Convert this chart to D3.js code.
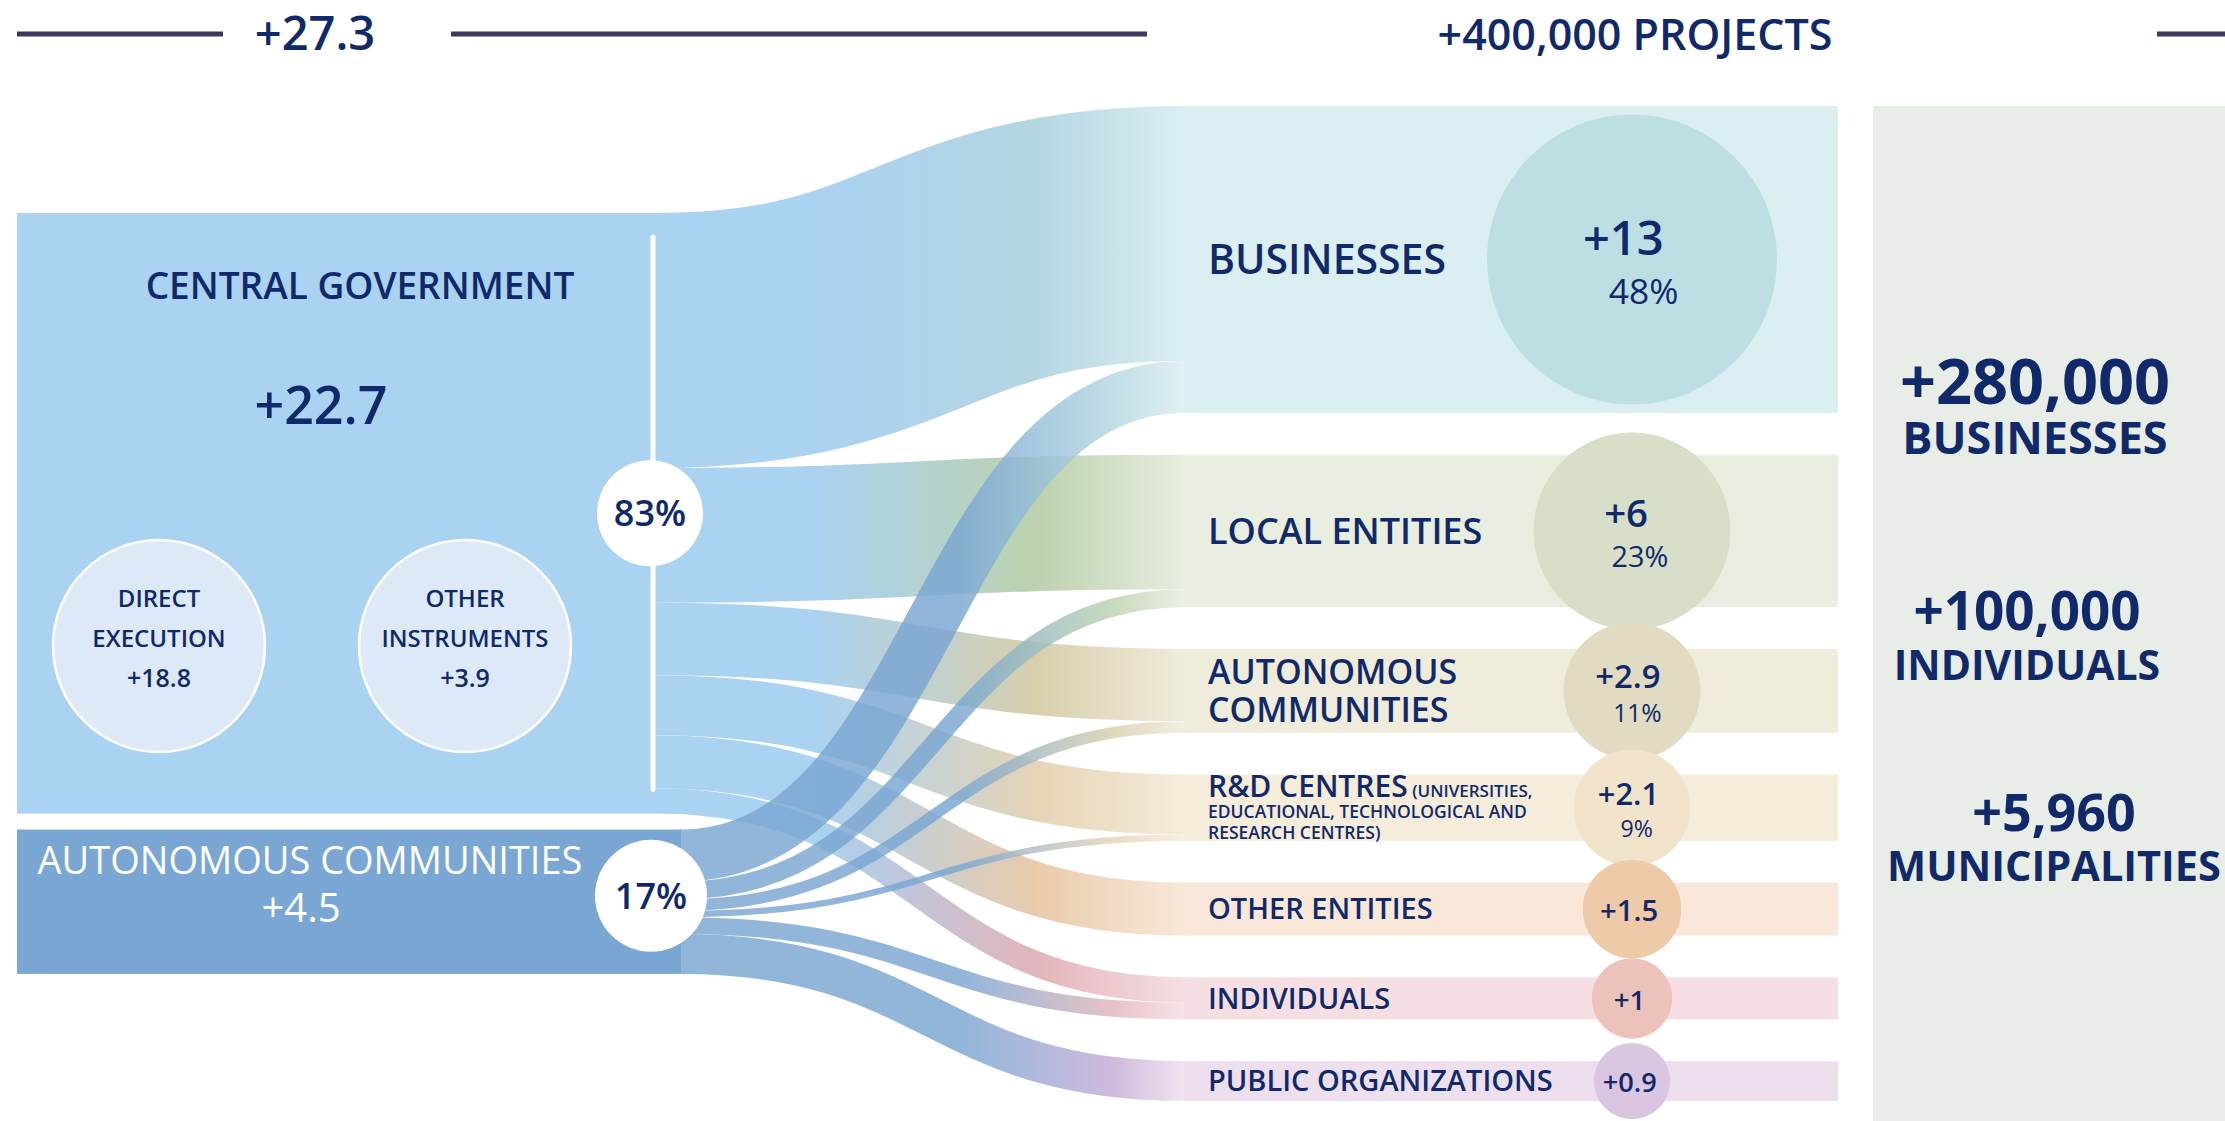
<!DOCTYPE html>
<html>
<head>
<meta charset="utf-8">
<script src="https://cdn.jsdelivr.net/npm/d3@7"></script>
<style>
    body { margin: 0; background: #fff; }
    svg { display: block; }
    text { font-family: "Open Sans", sans-serif; }
</style>
</head>
<body>
<svg id="chart" width="2225" height="1121"></svg>
<script>
// funds in billions of euros
let totalFunds = 27.3,
    totalProjects = 400000;

let sourceLabels = ["CENTRAL GOVERNMENT", "AUTONOMOUS COMMUNITIES"],
    sourceValues = [22.7, 4.5],
    sourceShares = ["83%", "17%"];

let instrumentLabels = [["DIRECT", "EXECUTION"], ["OTHER", "INSTRUMENTS"]],
    instrumentValues = [18.8, 3.9];

let targetLines = [["BUSINESSES"], ["LOCAL ENTITIES"], ["AUTONOMOUS", "COMMUNITIES"], ["R&D CENTRES"],
        ["OTHER ENTITIES"], ["INDIVIDUALS"], ["PUBLIC ORGANIZATIONS"]],
    targetNotes = [null, null, null, ["(UNIVERSITIES,", "EDUCATIONAL, TECHNOLOGICAL AND", "RESEARCH CENTRES)"],
        null, null, null],
    targetValues = [13, 6, 2.9, 2.1, 1.5, 1, 0.9],
    targetShares = ["48%", "23%", "11%", "9%", null, null, null];

// split of each recipient between the two sources, estimated from ribbon widths
let flowsFromCentral = [10.8, 5.3, 2.5, 1.9, 1.5, 0.6, 0],
    flowsFromRegions = [2.2, 0.7, 0.4, 0.2, 0, 0.4, 0.9];

let statValues = [280000, 100000, 5960],
    statLabels = ["BUSINESSES", "INDIVIDUALS", "MUNICIPALITIES"];

// ---- style / layout ----
let navy = "#10296a",
    sourceColors = ["#aad2f1", "#79a6d2"],
    bandColors = ["#dbeff2", "#e8eee0", "#f0ecdc", "#f6ecda", "#f9e8d9", "#f6dfe2", "#eedfee"],
    circleColors = ["#bddfe4", "#d7dfc8", "#e1dbc2", "#f2e3cb", "#efcaa8", "#ecc3ba", "#dac6e0"],
    flowTints = ["#b4d6e2", "#bcd2ae", "#d8cfac", "#e6d4b6", "#eacbab", "#e2b5ba", "#c4acd6"],
    targetLabelSize = [41, 36, 34, 30, 29, 29, 29],
    statStyle = [{x: 2035, y: 404, value: 63, label: 45},
                 {x: 2027, y: 630, value: 53, label: 41},
                 {x: 2054, y: 831, value: 52, label: 41.5}];

let svg = d3.select("#chart"),
    boxLeft = 17,
    x0 = 655,
    x0Regions = 680,
    x1 = 1185,
    bandEnd = 1838,
    circleX = 1632,
    labelX = 1208,
    sourceTop = 213,
    sourceGap = 16,
    targetTop = 106,
    targetBottom = 1101;

let bandHeight = d3.scaleLinear()
    .domain([0, d3.max(targetValues)])
    .range([20, 307]);

let radius = d3.scaleSqrt()
    .domain([0, d3.max(targetValues)])
    .range([0, 145]);

let plus = d => "+" + d;

// recipient rows stacked top to bottom
let heights = targetValues.map(bandHeight),
    gap = (targetBottom - targetTop - d3.sum(heights)) / (heights.length - 1),
    rows = [],
    yPos = targetTop;

for(let i = 0; i < targetValues.length; i++) {
    rows.push({y0: yPos, y1: yPos + heights[i], cy: yPos + heights[i] / 2, r: radius(targetValues[i])});
    yPos += heights[i] + gap;
}

// ribbons: each source stacks its flows, each recipient stacks central first
let links = [],
    boxes = [],
    cursor = rows.map(r => r.y0),
    sy = sourceTop;

[flowsFromCentral, flowsFromRegions].forEach((flows, s) => {
    let top = sy;
    flows.forEach((f, i) => {
        if(!f) return;
        let w = heights[i] * f / targetValues[i];
        links.push({source: s, target: i, width: w, ys: sy + w / 2, yt: cursor[i] + w / 2});
        sy += w;
        cursor[i] += w;
    });
    boxes.push({y0: top, y1: sy});
    sy += sourceGap;
});

function addText(g, str, x, y, size, weight, anchor, fill) {
    return g.append("text")
        .attr("x", x)
        .attr("y", y)
        .attr("font-size", size)
        .attr("font-weight", weight)
        .attr("text-anchor", anchor || "middle")
        .attr("fill", fill || navy)
        .text(str);
}

// ---- header ----
let header = svg.append("g");

header.selectAll("line")
    .data([[17, 223], [451, 1147], [2157, 2225]])
    .join("line")
    .attr("x1", d => d[0])
    .attr("x2", d => d[1])
    .attr("y1", 34)
    .attr("y2", 34)
    .attr("stroke", "#3b3a5d")
    .attr("stroke-width", 5);

addText(header, plus(totalFunds), 315, 50, 47, 600);
addText(header, "+" + d3.format(",")(totalProjects) + " PROJECTS", 1635, 50, 43, 600);

// ---- right panel ----
svg.append("rect")
    .attr("x", 1873)
    .attr("y", targetTop)
    .attr("width", 2225 - 1873)
    .attr("height", 1121 - targetTop)
    .attr("fill", "#e9ede8");

// ---- recipient bands ----
svg.append("g")
    .selectAll("rect")
    .data(rows)
    .join("rect")
    .attr("x", x1 - 1)
    .attr("y", d => d.y0)
    .attr("width", bandEnd - x1 + 1)
    .attr("height", d => d.y1 - d.y0)
    .attr("fill", (d, i) => bandColors[i]);

// ---- source boxes ----
svg.append("g")
    .selectAll("rect")
    .data(boxes)
    .join("rect")
    .attr("x", boxLeft)
    .attr("y", d => d.y0)
    .attr("width", (d, i) => (i ? x0Regions : x0) - boxLeft + 1)
    .attr("height", d => d.y1 - d.y0)
    .attr("fill", (d, i) => sourceColors[i]);

// ---- ribbons ----
let defs = svg.append("defs");

links.forEach((l, k) => {
    let grad = defs.append("linearGradient")
        .attr("id", "flow" + k)
        .attr("gradientUnits", "userSpaceOnUse")
        .attr("x1", l.source ? x0Regions : x0)
        .attr("x2", x1)
        .attr("y1", 0)
        .attr("y2", 0);
    let src = sourceColors[l.source],
        stops = l.source
            ? [[0, src], [0.55, src], [0.86, flowTints[l.target]], [1, bandColors[l.target]]]
            : [[0, src], [0.3, src], [0.72, flowTints[l.target]], [1, bandColors[l.target]]];
    grad.selectAll("stop")
        .data(stops)
        .join("stop")
        .attr("offset", d => d[0])
        .attr("stop-color", d => d[1]);
});

let linkPath = d3.linkHorizontal();

svg.append("g")
    .attr("fill", "none")
    .selectAll("path")
    .data(links)
    .join("path")
    .attr("d", l => linkPath({source: [l.source ? x0Regions : x0, l.ys], target: [x1, l.yt]}))
    .attr("stroke", (l, k) => "url(#flow" + k + ")")
    .attr("stroke-width", l => l.width)
    .attr("stroke-opacity", l => l.source ? 0.82 : 1);

// ---- central government box contents ----
let central = boxes[0],
    regions = boxes[1],
    left = svg.append("g");

left.append("line")
    .attr("x1", 653)
    .attr("x2", 653)
    .attr("y1", central.y0 + 24)
    .attr("y2", central.y1 - 24)
    .attr("stroke", "#fff")
    .attr("stroke-width", 5)
    .attr("stroke-linecap", "round");

addText(left, sourceLabels[0], 360, 299, 37, 600);
addText(left, plus(sourceValues[0]), 321, 424, 52, 600);

let inst = left.selectAll(".inst")
    .data(instrumentValues)
    .join("g")
    .attr("class", "inst")
    .attr("transform", (d, i) => "translate(" + [159, 465][i] + ",646)");

inst.append("circle")
    .attr("r", 106)
    .attr("fill", "#dde9f6")
    .attr("stroke", "#fff")
    .attr("stroke-width", 2.5);

inst.each(function(d, i) {
    let g = d3.select(this);
    addText(g, instrumentLabels[i][0], 0, -39, 24, 600);
    addText(g, instrumentLabels[i][1], 0, 1, 24, 600);
    addText(g, plus(d), 0, 41, 25, 600);
});

addText(left, sourceLabels[1], 310, regions.y0 + 44, 38, 400, "middle", "#fff");
addText(left, plus(sourceValues[1]), 301, regions.y0 + 92, 40, 400, "middle", "#fff");

let shareCircles = [
    {cx: 650, cy: (central.y0 + central.y1) / 2, r: 53},
    {cx: 651, cy: (regions.y0 + regions.y1) / 2 - 6, r: 56}
];

shareCircles.forEach((c, i) => {
    left.append("circle")
        .attr("cx", c.cx)
        .attr("cy", c.cy)
        .attr("r", c.r)
        .attr("fill", "#fff");
    addText(left, sourceShares[i], c.cx, c.cy + 13, 36, 600);
});

// ---- recipient circles and labels ----
let right = svg.append("g");

right.selectAll("circle")
    .data(rows)
    .join("circle")
    .attr("cx", circleX)
    .attr("cy", d => d.cy)
    .attr("r", d => d.r)
    .attr("fill", (d, i) => circleColors[i]);

rows.forEach((row, i) => {
    let vf = 20 + 0.187 * row.r;
    if(targetShares[i]) {
        addText(right, plus(targetValues[i]), circleX - 0.06 * row.r, row.cy - 0.1 * vf, vf, 600);
        addText(right, targetShares[i], circleX + 0.08 * row.r, row.cy + 0.95 * vf, vf * 0.75, 400);
    } else {
        addText(right, plus(targetValues[i]), circleX - 0.06 * row.r, row.cy + 0.42 * vf, vf, 600);
    }

    let size = targetLabelSize[i],
        cap = size * 0.714,
        lines = targetLines[i],
        note = targetNotes[i],
        lineH = size * 1.12,
        noteH = 21,
        extra = (lines.length - 1) * lineH + (note ? (note.length - 1) * noteH : 0),
        base = row.cy - (extra - cap) / 2;

    let t = right.append("text")
        .attr("x", labelX)
        .attr("y", base)
        .attr("font-size", size)
        .attr("font-weight", 600)
        .attr("fill", navy);

    lines.forEach((l, j) => {
        t.append("tspan")
            .attr("x", labelX)
            .attr("y", base + j * lineH)
            .text(l);
    });

    if(note) {
        t.append("tspan")
            .attr("font-size", 17)
            .text(" " + note[0]);
        note.slice(1).forEach((l, j) => {
            t.append("tspan")
                .attr("x", labelX)
                .attr("y", base + (lines.length - 1) * lineH + (j + 1) * noteH)
                .attr("font-size", 17.5)
                .text(l);
        });
    }
});

// ---- reach figures ----
let stats = svg.append("g");

statValues.forEach((v, i) => {
    let st = statStyle[i];
    addText(stats, "+" + d3.format(",")(v), st.x, st.y, st.value, 700);
    addText(stats, statLabels[i], st.x, st.y + 50, st.label, 700);
});
</script>
</body>
</html>
